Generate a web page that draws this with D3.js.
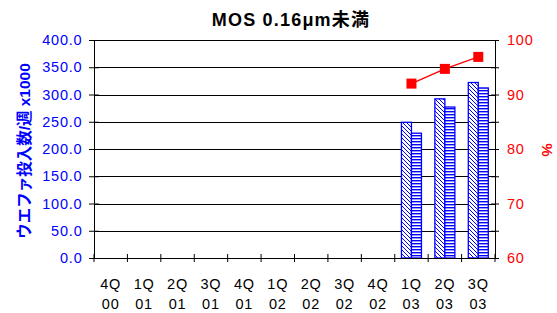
<!DOCTYPE html>
<html>
<head>
<meta charset="utf-8">
<script src="https://cdn.jsdelivr.net/npm/d3@7"></script>
<style>
body { margin: 0; background: #fff; }
svg { font-family: "Liberation Sans", Arial, sans-serif; }
</style>
</head>
<body>
<div id="chart"></div>
<script>
// chart values
var quarters = ['4Q|00', '1Q|01', '2Q|01', '3Q|01', '4Q|01', '1Q|02', '2Q|02', '3Q|02', '4Q|02', '1Q|03', '2Q|03', '3Q|03'];
var seriesA = [null, null, null, null, null, null, null, null, null, 249, 292, 322];
var seriesB = [null, null, null, null, null, null, null, null, null, 229, 277, 312];
var percent = [null, null, null, null, null, null, null, null, null, 92, 94.7, 96.9];
var leftTicks = [0, 50, 100, 150, 200, 250, 300, 350, 400];
var rightTicks = [60, 65, 70, 75, 80, 85, 90, 95, 100];

var width = 557, height = 313;
var plotLeft = 94, plotRight = 495, plotTop = 40, plotBottom = 258;

var svg = d3.select('#chart').append('svg')
	.attr('width', width)
	.attr('height', height);

var defs = svg.append('defs');
var diag = defs.append('pattern')
	.attr('id', 'diag')
	.attr('patternUnits', 'userSpaceOnUse')
	.attr('width', 4).attr('height', 4);
diag.append('rect').attr('width', 4).attr('height', 4).attr('fill', '#fff');
diag.append('path')
	.attr('d', 'M-1,-1 L5,5 M-1,3 L1,5 M3,-1 L5,1')
	.attr('stroke', '#0000ff').attr('stroke-width', 1);

var horiz = defs.append('pattern')
	.attr('id', 'horiz')
	.attr('patternUnits', 'userSpaceOnUse')
	.attr('width', 4).attr('height', 3);
horiz.append('rect').attr('width', 4).attr('height', 3).attr('fill', '#fff');
horiz.append('rect').attr('y', 0).attr('width', 4).attr('height', 1.4).attr('fill', '#0000ff');

var x = d3.scaleBand().domain(quarters).range([plotLeft, plotRight]);
var y = d3.scaleLinear().domain([0, 400]).range([plotBottom, plotTop]);
var y2 = d3.scaleLinear().domain([60, 100]).range([plotBottom, plotTop]);

// grid
svg.append('g').selectAll('line')
	.data(leftTicks.slice(1)).enter()
	.append('line')
		.attr('x1', plotLeft).attr('x2', plotRight)
		.attr('y1', function(d) { return Math.round(y(d)) + 0.5; })
		.attr('y2', function(d) { return Math.round(y(d)) + 0.5; })
		.attr('stroke', '#000').attr('stroke-width', 1);

// bars
var barW = 10;
svg.append('g').selectAll('rect')
	.data(quarters.map(function(q, i) { return {q: q, v: seriesA[i]}; }).filter(function(d) { return d.v != null; }))
	.enter().append('rect')
		.attr('x', function(d) { return x(d.q) + x.bandwidth() / 2 - barW; })
		.attr('y', function(d) { return y(d.v); })
		.attr('width', barW)
		.attr('height', function(d) { return plotBottom - y(d.v); })
		.attr('fill', 'url(#diag)')
		.attr('stroke', '#0000ff').attr('stroke-width', 1.3);

svg.append('g').selectAll('rect')
	.data(quarters.map(function(q, i) { return {q: q, v: seriesB[i]}; }).filter(function(d) { return d.v != null; }))
	.enter().append('rect')
		.attr('x', function(d) { return x(d.q) + x.bandwidth() / 2; })
		.attr('y', function(d) { return y(d.v); })
		.attr('width', barW)
		.attr('height', function(d) { return plotBottom - y(d.v); })
		.attr('fill', 'url(#horiz)')
		.attr('stroke', '#0000ff').attr('stroke-width', 1.3);

// axes
var xAxis = svg.append('g')
	.attr('transform', 'translate(0,' + plotBottom + ')')
	.call(d3.axisBottom(x).tickSize(0).tickFormat(''));
xAxis.select('.domain').attr('stroke', '#000');
xAxis.selectAll('.edge').data(d3.range(quarters.length + 1)).enter()
	.append('line')
		.attr('x1', function(i) { return plotLeft + i * x.step(); })
		.attr('x2', function(i) { return plotLeft + i * x.step(); })
		.attr('y1', -4).attr('y2', 4)
		.attr('stroke', '#000');

var xLabels = svg.append('g').selectAll('text')
	.data(quarters).enter()
	.append('text')
		.attr('x', function(d) { return x(d) + x.bandwidth() / 2; })
		.attr('y', 288.5)
		.attr('text-anchor', 'middle')
		.attr('font-size', 14.5)
		.attr('letter-spacing', 0.8)
		.attr('fill', '#000');
xLabels.append('tspan').attr('x', function(d) { return x(d) + x.bandwidth() / 2; })
	.text(function(d) { return d.split('|')[0]; });
xLabels.append('tspan').attr('x', function(d) { return x(d) + x.bandwidth() / 2; })
	.attr('dy', 20.5)
	.text(function(d) { return d.split('|')[1]; });

var yAxis = svg.append('g')
	.attr('transform', 'translate(' + plotLeft + ',0)')
	.call(d3.axisLeft(y).tickValues(leftTicks).tickSize(5).tickSizeOuter(0).tickFormat(d3.format('.1f')));
yAxis.select('.domain').attr('stroke', '#000');
yAxis.selectAll('.tick line').attr('x2', 5).attr('x1', -5).attr('stroke', '#000');
yAxis.selectAll('.tick text')
	.attr('x', -11.5)
	.attr('font-size', 14.5)
	.attr('letter-spacing', 0.8)
	.attr('font-family', '"Liberation Sans", Arial, sans-serif')
	.attr('fill', '#0000ff');

var y2Axis = svg.append('g')
	.attr('transform', 'translate(' + plotRight + ',0)')
	.call(d3.axisRight(y2).tickValues(rightTicks).tickSize(4).tickSizeOuter(0)
		.tickFormat(function(d) { return d % 10 === 0 ? d : ''; }));
y2Axis.select('.domain').attr('stroke', '#000');
y2Axis.selectAll('.tick line').attr('x1', -4).attr('x2', 4).attr('stroke', '#000');
y2Axis.selectAll('.tick text')
	.attr('x', 12)
	.attr('font-size', 14.5)
	.attr('letter-spacing', 0.8)
	.attr('font-family', '"Liberation Sans", Arial, sans-serif')
	.attr('fill', '#ff0000');

// percent line
var pts = quarters.map(function(q, i) { return {q: q, v: percent[i]}; }).filter(function(d) { return d.v != null; });
svg.append('path')
	.datum(pts)
	.attr('fill', 'none')
	.attr('stroke', '#ff0000').attr('stroke-width', 1.3)
	.attr('d', d3.line()
		.x(function(d) { return x(d.q) + x.bandwidth() / 2; })
		.y(function(d) { return y2(d.v); }));
svg.append('g').selectAll('rect')
	.data(pts).enter()
	.append('rect')
		.attr('x', function(d) { return x(d.q) + x.bandwidth() / 2 - 5; })
		.attr('y', function(d) { return y2(d.v) - 5; })
		.attr('width', 10).attr('height', 10)
		.attr('fill', '#ff0000');

// titles
svg.append('text')
	.attr('x', 291).attr('y', 25.5)
	.attr('text-anchor', 'middle')
	.attr('font-size', 18).attr('font-weight', 'bold')
	.attr('letter-spacing', 1.2)
	.attr('font-family', '"Liberation Sans", "Noto Sans CJK JP", sans-serif')
	.text('MOS 0.16μm未満');

svg.append('text')
	.attr('transform', 'translate(30,151) rotate(-90)')
	.attr('text-anchor', 'middle')
	.attr('font-size', 15.5).attr('font-weight', 'bold')
	.attr('fill', '#0000ff')
	.attr('font-family', '"Liberation Sans", "Noto Sans CJK JP", sans-serif')
	.text('ウエファ投入数/週 x1000');

svg.append('text')
	.attr('transform', 'translate(542,150) rotate(90)')
	.attr('text-anchor', 'middle')
	.attr('font-size', 15).attr('font-weight', 'bold')
	.attr('fill', '#ff0000')
	.text('%');
</script>
</body>
</html>
